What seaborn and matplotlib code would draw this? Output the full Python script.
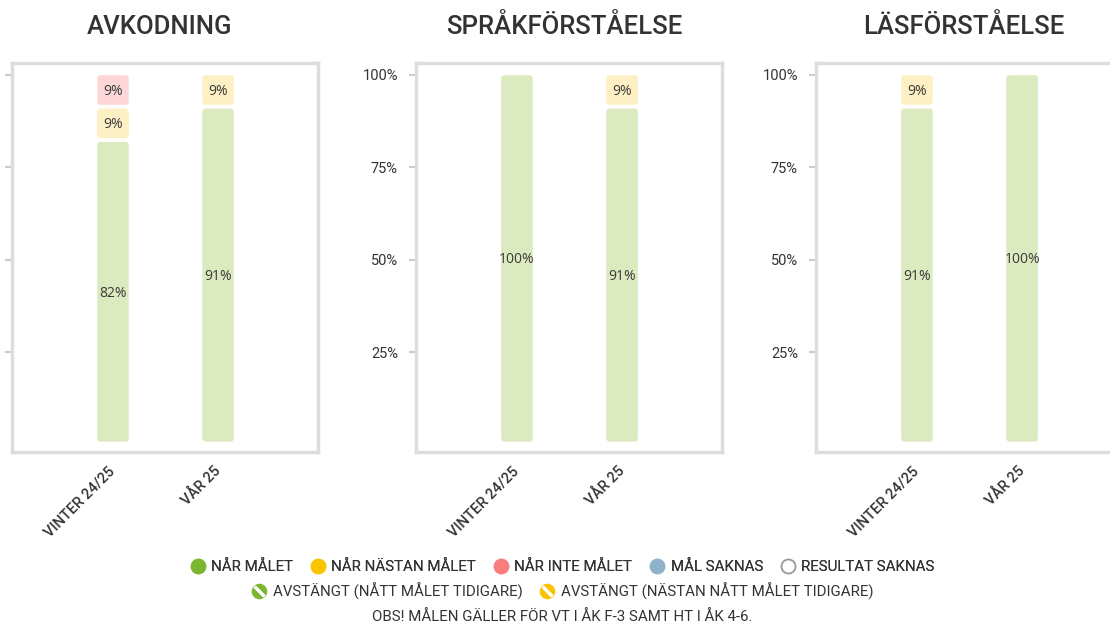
import matplotlib
matplotlib.use("Agg")
import matplotlib.pyplot as plt
import seaborn as sns
from matplotlib.patches import FancyBboxPatch, Rectangle
from matplotlib.lines import Line2D

# ---------------- data ----------------
subjects = ["AVKODNING", "SPRÅKFÖRSTÅELSE", "LÄSFÖRSTÅELSE"]
periods = ["VINTER 24/25", "VÅR 25"]
nar_malet = [[82, 91], [100, 91], [91, 100]]
nar_nastan = [[9, 9], [0, 9], [9, 0]]
nar_inte = [[9, 0], [0, 0], [0, 0]]

yticks = [25, 50, 75, 100]
ytick_labels = ["25%", "50%", "75%", "100%"]
legend_row1 = ["NÅR MÅLET", "NÅR NÄSTAN MÅLET", "NÅR INTE MÅLET", "MÅL SAKNAS", "RESULTAT SAKNAS"]
legend_row2 = ["AVSTÄNGT (NÅTT MÅLET TIDIGARE)", "AVSTÄNGT (NÄSTAN NÅTT MÅLET TIDIGARE)"]
note = "OBS! MÅLEN GÄLLER FÖR VT I ÅK F-3 SAMT HT I ÅK 4-6."

# ---------------- style ----------------
pale = ["#dceac0", "#fdf0c4", "#fdd7d7"]
strong = ["#7cb82f", "#f8c500", "#fb7e7e", "#8fb2cb"]
txt = "#333333"

sns.set_theme(style="white")
plt.rcParams["font.family"] = ["Roboto", "DejaVu Sans"]

W, H = 1110, 624
fig = plt.figure(figsize=(W / 100, H / 100), dpi=100)
lefts = [12, 416, 816]
top_px, bot_px, width_px = 63, 452, 306

for i, subj in enumerate(subjects):
    ax = fig.add_axes([lefts[i] / W, 1 - bot_px / H, width_px / W, (bot_px - top_px) / H])
    layers = [nar_malet[i], nar_nastan[i], nar_inte[i]]
    bottoms = [0, 0]
    for k, vals in enumerate(layers):
        sns.barplot(x=periods, y=vals, bottom=list(bottoms), color=pale[k], saturation=1,
                    width=0.3, linewidth=0, errorbar=None, order=periods, ax=ax)
        for j, v in enumerate(vals):
            if v > 0:
                ax.text(j, bottoms[j] + v / 2, f"{v}%", ha="center", va="center",
                        fontsize=10, color="#3a3a3a", family=["Open Sans", "DejaVu Sans"])
        bottoms = [b + v for b, v in zip(bottoms, vals)]

    # rounded segments with small gaps
    for r in [p for p in ax.patches if isinstance(p, Rectangle)]:
        x, y, w, h = r.get_x(), r.get_y(), r.get_width(), r.get_height()
        fc = r.get_facecolor()
        r.remove()
        if h <= 0:
            continue
        p = FancyBboxPatch((x, y + 0.9), w, h - 1.0,
                           boxstyle="round,pad=0,rounding_size=0.03",
                           mutation_aspect=27, fc=fc, ec="none", zorder=1)
        ax.add_patch(p)

    ax.set_xlim(-0.96, 1.95)
    ax.set_ylim(-1.9, 103.2)
    ax.set_yticks(yticks)
    ax.set_yticklabels(ytick_labels)
    ax.set_xlabel("")
    ax.set_ylabel("")
    for s in ax.spines.values():
        s.set_color("#dddddd")
        s.set_linewidth(2.5)
        s.set_visible(True)
    ax.tick_params(axis="y", left=True, length=5, width=1.5, color="#cccccc",
                   labelsize=10.5, labelcolor=txt, pad=8, labelleft=(i > 0))
    ax.tick_params(axis="x", bottom=False, length=0, labelsize=10.5, labelcolor=txt, pad=12)
    for lab in ax.get_xticklabels():
        lab.set_rotation(45)
        lab.set_ha("right")
        lab.set_va("center")
        lab.set_rotation_mode("anchor")
        lab.set_fontweight("medium")
    for t in ax.texts:
        t.set_zorder(3)

    cx = (lefts[i] + width_px / 2) / W
    fig.text(cx - 5 / W, 1 - 27 / H, subj, ha="center", va="center", fontsize=18.5,
             color=txt, fontweight="medium")

# ---------------- legend ----------------
def dot(c, ec=None):
    return Line2D([], [], marker="o", linestyle="none", markersize=10,
                  markerfacecolor=c, markeredgecolor=ec or c, markeredgewidth=1.2)

h1 = [dot(strong[0]), dot(strong[1]), dot(strong[2]), dot(strong[3]), dot("white", "#999999")]
stripe = Line2D([], [], marker=(2, 2, 45), linestyle="none", markersize=10,
                markeredgecolor="white", markeredgewidth=2)
h2 = [(dot(strong[0]), stripe), (dot(strong[1]), stripe)]

leg1 = fig.legend(h1, legend_row1, loc="center", bbox_to_anchor=(562 / W, 1 - 567 / H),
                  ncol=5, frameon=False, fontsize=10.8, handletextpad=0.35,
                  columnspacing=1.1, handlelength=1.1, labelcolor=txt)
leg2 = fig.legend(h2, legend_row2, loc="center", bbox_to_anchor=(562 / W, 1 - 591 / H),
                  ncol=2, frameon=False, fontsize=10.8, handletextpad=0.35,
                  columnspacing=1.1, handlelength=1.1, labelcolor=txt)
fig.add_artist(leg1)
fig.text(562 / W, 1 - 617 / H, note, ha="center", va="center", fontsize=10.8, color=txt)

fig.savefig("out.png", dpi=100)
